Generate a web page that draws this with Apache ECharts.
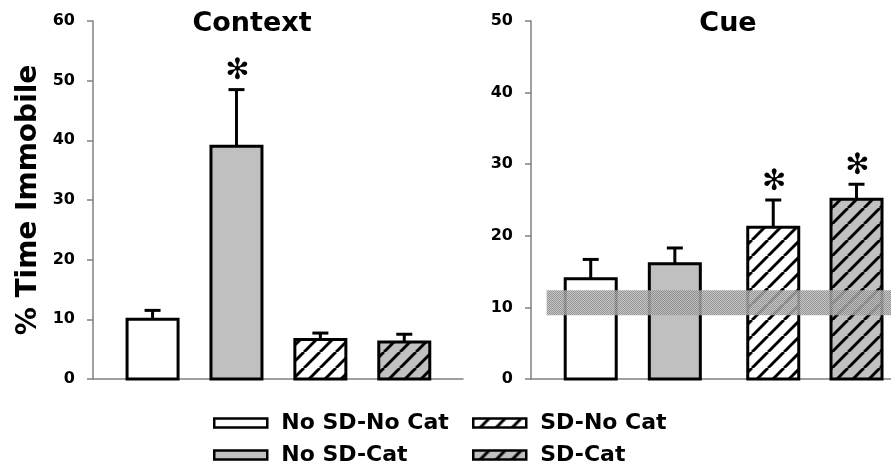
<!DOCTYPE html>
<html>
<head>
<meta charset="utf-8">
<script src="https://cdn.jsdelivr.net/npm/echarts@6/dist/echarts.min.js"></script>
<style>
  html, body { margin: 0; padding: 0; background: #fff; }
  #chart { width: 891px; height: 467px; }
</style>
</head>
<body>
<div id="chart"></div>
<script>
// groups, in legend order
const GROUPS = ['No SD-No Cat', 'No SD-Cat', 'SD-No Cat', 'SD-Cat'];

// Context panel
const CONTEXT_MEAN = [10.0, 39.0, 6.6, 6.2];
const CONTEXT_ERR_TOP = [11.5, 48.5, 7.7, 7.5];
const CONTEXT_SIG = [0, 1, 0, 0];
const CONTEXT_SLOTS = [1, 2, 3, 4];
const CONTEXT_TICKS = [0, 10, 20, 30, 40, 50, 60];

// Cue panel
const CUE_MEAN = [14.0, 16.1, 21.2, 25.1];
const CUE_ERR_TOP = [16.7, 18.3, 25.0, 27.2];
const CUE_SIG = [0, 0, 1, 1];
const CUE_SLOTS = [1, 2, 3.17, 4.16];
const CUE_TICKS = [0, 10, 20, 30, 40, 50];
// grey band over the cue panel (y from, y to)
const CUE_BAND = [8.9, 12.4];

const FONT = '"DejaVu Sans", sans-serif';

// diagonal hatch tile
function hatch(bg) {
    const c = document.createElement('canvas');
    c.width = 16; c.height = 16;
    const g = c.getContext('2d');
    g.fillStyle = bg;
    g.fillRect(0, 0, 16, 16);
    g.strokeStyle = '#000';
    g.lineWidth = 3;
    [-16, 0, 16].forEach(k => {
        g.beginPath();
        g.moveTo(k, 16);
        g.lineTo(k + 16, 0);
        g.stroke();
    });
    return c;
}

// halftone-ish grey for the band
function checker() {
    const c = document.createElement('canvas');
    c.width = 2; c.height = 2;
    const g = c.getContext('2d');
    g.fillStyle = 'rgba(135,135,135,0.88)';
    g.fillRect(0, 0, 1, 1);
    g.fillRect(1, 1, 1, 1);
    g.fillStyle = 'rgba(190,190,190,0.88)';
    g.fillRect(1, 0, 1, 1);
    g.fillRect(0, 1, 1, 1);
    return c;
}

const FILLS = [
    '#ffffff',
    '#c0c0c0',
    { image: hatch('#ffffff'), repeat: 'repeat' },
    { image: hatch('#c0c0c0'), repeat: 'repeat' }
];

function barItem(fill) {
    return function (params, api) {
        const x = api.value(0), m = api.value(1), e = api.value(2), s = api.value(3);
        const p0 = api.coord([x, 0]);
        const p1 = api.coord([x, m]);
        const p2 = api.coord([x, e]);
        const w = 51, cap = 16;
        const kids = [
            { type: 'line', shape: { x1: p1[0], y1: p1[1], x2: p2[0], y2: p2[1] }, style: { stroke: '#000', lineWidth: 3 } },
            { type: 'line', shape: { x1: p2[0] - cap / 2, y1: p2[1], x2: p2[0] + cap / 2, y2: p2[1] }, style: { stroke: '#000', lineWidth: 3 } },
            { type: 'rect', shape: { x: p0[0] - w / 2, y: p1[1], width: w, height: p0[1] - p1[1] }, style: { fill: fill, stroke: '#000', lineWidth: 3 } }
        ];
        if (s) {
            kids.push({
                type: 'text', x: p2[0] + 1, y: p2[1] - 18,
                style: { text: '✻', font: 'bold 29px ' + FONT, fill: '#000', align: 'center', verticalAlign: 'middle' }
            });
        }
        return { type: 'group', children: kids };
    };
}

function panelSeries(idx, slots, mean, errTop, sig) {
    return GROUPS.map((name, i) => ({
        type: 'custom',
        name: name,
        xAxisIndex: idx,
        yAxisIndex: idx,
        clip: false,
        silent: true,
        renderItem: barItem(FILLS[i]),
        encode: { x: 0, y: [1, 2] },
        data: [[slots[i], mean[i], errTop[i], sig[i]]]
    }));
}

const axisGrey = { lineStyle: { color: '#808080', width: 1.5 } };

function yAxisFor(idx, ticks) {
    return {
        type: 'value',
        gridIndex: idx,
        min: ticks[0],
        max: ticks[ticks.length - 1],
        interval: ticks[1] - ticks[0],
        axisLine: { show: true, ...axisGrey },
        axisTick: { show: true, length: 6, ...axisGrey },
        splitLine: { show: false },
        axisLabel: { margin: 18, color: '#000', fontFamily: FONT, fontWeight: 'bold', fontSize: 16 }
    };
}

function xAxisFor(idx, min, max) {
    return {
        type: 'value',
        gridIndex: idx,
        min: min,
        max: max,
        axisLine: { show: true, onZero: false, ...axisGrey },
        axisTick: { show: false },
        axisLabel: { show: false },
        splitLine: { show: false }
    };
}

function legendItem(i) {
    return { name: GROUPS[i], itemStyle: { color: FILLS[i], borderColor: '#000', borderWidth: 2.5 } };
}

const legendText = { color: '#000', fontFamily: FONT, fontWeight: 'bold', fontSize: 22, padding: [0, 0, 0, 9] };

const chart = echarts.init(document.getElementById('chart'), null, { renderer: 'canvas' });

const option = {
    animation: false,
    backgroundColor: '#fff',
    grid: [
        { left: 93, top: 21, width: 370, bottom: 88 },
        { left: 531, top: 21, right: 0, bottom: 88 }
    ],
    xAxis: [
        xAxisFor(0, 0.29, 4.70),
        xAxisFor(1, 0.29, 4.57)
    ],
    yAxis: [
        Object.assign(yAxisFor(0, CONTEXT_TICKS), {
            name: '% Time Immobile',
            nameLocation: 'middle',
            nameRotate: 90,
            nameGap: 50,
            nameTextStyle: { color: '#000', fontFamily: FONT, fontWeight: 'bold', fontSize: 28 }
        }),
        yAxisFor(1, CUE_TICKS)
    ],
    graphic: [
        { type: 'text', x: 252, y: 24, style: { text: 'Context', font: 'bold 27px ' + FONT, fill: '#000', align: 'center', verticalAlign: 'middle' } },
        { type: 'text', x: 728, y: 24, style: { text: 'Cue', font: 'bold 27px ' + FONT, fill: '#000', align: 'center', verticalAlign: 'middle' } }
    ],
    legend: [
        {
            orient: 'vertical', left: 213, top: 412, height: 120, padding: 0,
            itemWidth: 53, itemHeight: 9, itemGap: 10,
            icon: 'rect', selectedMode: false, textStyle: legendText,
            data: [legendItem(0), legendItem(1)]
        },
        {
            orient: 'vertical', left: 472, top: 412, height: 120, padding: 0,
            itemWidth: 53, itemHeight: 9, itemGap: 10,
            icon: 'rect', selectedMode: false, textStyle: legendText,
            data: [legendItem(2), legendItem(3)]
        }
    ],
    series: [
        ...panelSeries(0, CONTEXT_SLOTS, CONTEXT_MEAN, CONTEXT_ERR_TOP, CONTEXT_SIG),
        ...panelSeries(1, CUE_SLOTS, CUE_MEAN, CUE_ERR_TOP, CUE_SIG),
        {
            type: 'custom',
            xAxisIndex: 1,
            yAxisIndex: 1,
            z: 10,
            clip: false,
            silent: true,
            encode: { x: [0, 1], y: [2, 3] },
            data: [[0.476, 4.57, CUE_BAND[0], CUE_BAND[1]]],
            renderItem: function (params, api) {
                const a = api.coord([api.value(0), api.value(3)]);
                const b = api.coord([api.value(1), api.value(2)]);
                return {
                    type: 'rect',
                    shape: { x: a[0], y: a[1], width: b[0] - a[0], height: b[1] - a[1] },
                    style: { fill: { image: checker(), repeat: 'repeat' } }
                };
            }
        }
    ]
};

chart.setOption(option);
</script>
</body>
</html>
